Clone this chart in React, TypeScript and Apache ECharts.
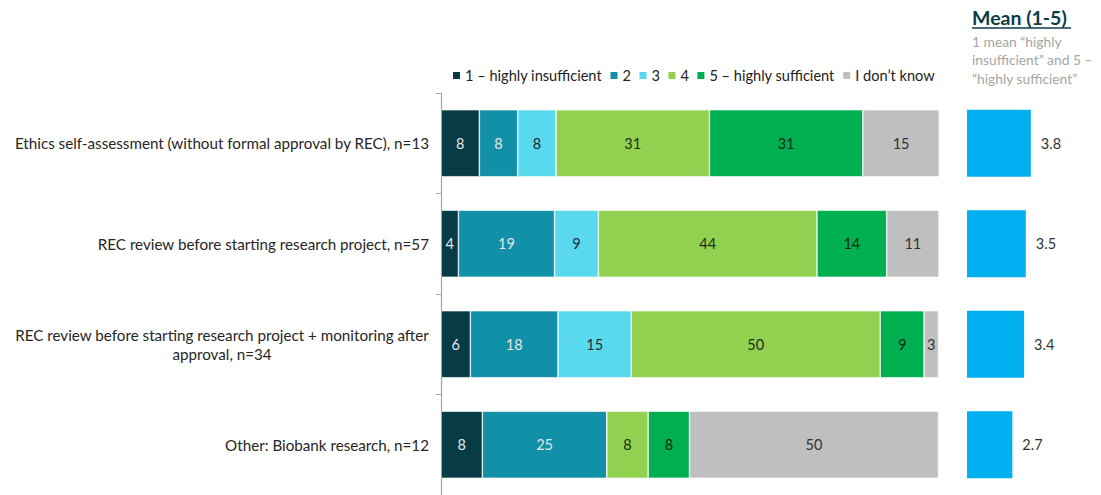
import React, { useEffect, useRef } from "react";
import * as echarts from "echarts";

// Survey rows (top to bottom)
const categories = [
  "Ethics self-assessment (without formal approval by REC), n=13",
  "REC review before starting research project, n=57",
  "REC review before starting research project + monitoring after approval, n=34",
  "Other: Biobank research, n=12",
];

const seriesNames = [
  "1 – highly insufficient",
  "2",
  "3",
  "4",
  "5 – highly sufficient",
  "I don’t know",
];

// Share of respondents per answer (%), one array per answer
const share1 = [7.7, 3.5, 5.9, 8.3];
const share2 = [7.7, 19.3, 17.6, 25.0];
const share3 = [7.7, 8.8, 14.7, 0];
const share4 = [30.8, 43.9, 50.0, 8.3];
const share5 = [30.8, 14.0, 8.8, 8.3];
const shareDontKnow = [15.4, 10.5, 2.9, 50.0];

// Mean score on the 1–5 scale
const means = [3.8, 3.5, 3.4, 2.7];

const colors = ["#073B45", "#1190A8", "#5AD8EE", "#92D050", "#00B050", "#BFBFBF"];
const labelColors = ["#E6E6E6", "#E6E6E6", "#1E2E33", "#1E2E1A", "#0D2A16", "#333333"];

const FONT = "Lato";

export default function App() {
  const ref = useRef<HTMLDivElement>(null);

  useEffect(() => {
    if (!ref.current) return;
    const chart = echarts.init(ref.current, null, { renderer: "svg" });
    const shares = [share1, share2, share3, share4, share5, shareDontKnow];

    const mainSeries = shares.map((data, i) => ({
      name: seriesNames[i],
      type: "bar",
      stack: "total",
      xAxisIndex: 0,
      yAxisIndex: 0,
      barWidth: 67,
      data,
      itemStyle: { color: colors[i], borderColor: "#ffffff", borderWidth: 0.6 },
      label: {
        show: true,
        position: "inside",
        color: labelColors[i],
        fontFamily: FONT,
        fontSize: 14.5,
        formatter: (p: any) => (p.value > 0 ? String(Math.round(p.value)) : ""),
      },
    }));

    chart.setOption({
      animation: false,
      textStyle: { fontFamily: FONT },
      legend: {
        data: seriesNames,
        left: 446,
        top: 63,
        icon: "rect",
        itemWidth: 9,
        itemHeight: 9,
        itemGap: 6.5,
        textStyle: { fontFamily: FONT, fontSize: 14.6, color: "#222", padding: [0, 0, 0, -1] },
        selectedMode: false,
      },
      grid: [
        { left: 441, top: 93, width: 498, height: 404 },
        { left: 967, top: 93, width: 84, height: 404 },
      ],
      xAxis: [
        { type: "value", gridIndex: 0, min: 0, max: 100, show: false },
        { type: "value", gridIndex: 1, min: 0, max: 5, show: false },
      ],
      yAxis: [
        {
          type: "category",
          gridIndex: 0,
          data: categories,
          inverse: true,
          axisLine: { show: true, lineStyle: { color: "#A6A6A6", width: 1.2 } },
          axisTick: { show: true, length: 5, lineStyle: { color: "#A6A6A6" } },
          axisLabel: {
            margin: 12,
            fontFamily: FONT,
            fontSize: 15.2,
            color: "#262626",
            formatter: (v: string) => {
              if (v.length > 70) {
                const cut = v.lastIndexOf(" ", 63);
                return `{c|${v.slice(0, cut)}}\n{c|${v.slice(cut + 1)}}`;
              }
              return v;
            },
            rich: {
              c: {
                width: 414,
                align: "center",
                fontFamily: FONT,
                fontSize: 15.2,
                color: "#262626",
                lineHeight: 19,
              },
            },
          },
        },
        {
          type: "category",
          gridIndex: 1,
          data: categories,
          inverse: true,
          show: false,
        },
      ],
      series: [
        ...mainSeries,
        {
          name: "Mean",
          type: "bar",
          xAxisIndex: 1,
          yAxisIndex: 1,
          barWidth: 67,
          data: means,
          itemStyle: { color: "#00B0F0" },
          label: {
            show: true,
            position: "right",
            distance: 10,
            fontFamily: FONT,
            fontSize: 14.5,
            color: "#333",
            formatter: (p: any) => p.value.toFixed(1),
          },
        },
      ],
      graphic: [
        {
          type: "text",
          left: 972,
          top: 7,
          style: {
            text: "Mean (1-5)",
            fontFamily: FONT,
            fontWeight: "bold",
            fontSize: 19.5,
            fill: "#0C3C48",
          },
        },
        {
          type: "line",
          shape: { x1: 972, y1: 28, x2: 1071, y2: 28 },
          style: { stroke: "#0C3C48", lineWidth: 1.4 },
        },
        {
          type: "text",
          left: 972,
          top: 32,
          style: {
            text: "1 mean “highly\ninsufficient” and 5 –\n“highly sufficient”",
            fontFamily: FONT,
            fontSize: 13.8,
            lineHeight: 18.5,
            fill: "#A6A6A6",
          },
        },
      ],
    });

    return () => chart.dispose();
  }, []);

  return (
    <div
      ref={ref}
      style={{ position: "fixed", left: 0, top: 0, width: 1101, height: 495, background: "#fff" }}
    />
  );
}
